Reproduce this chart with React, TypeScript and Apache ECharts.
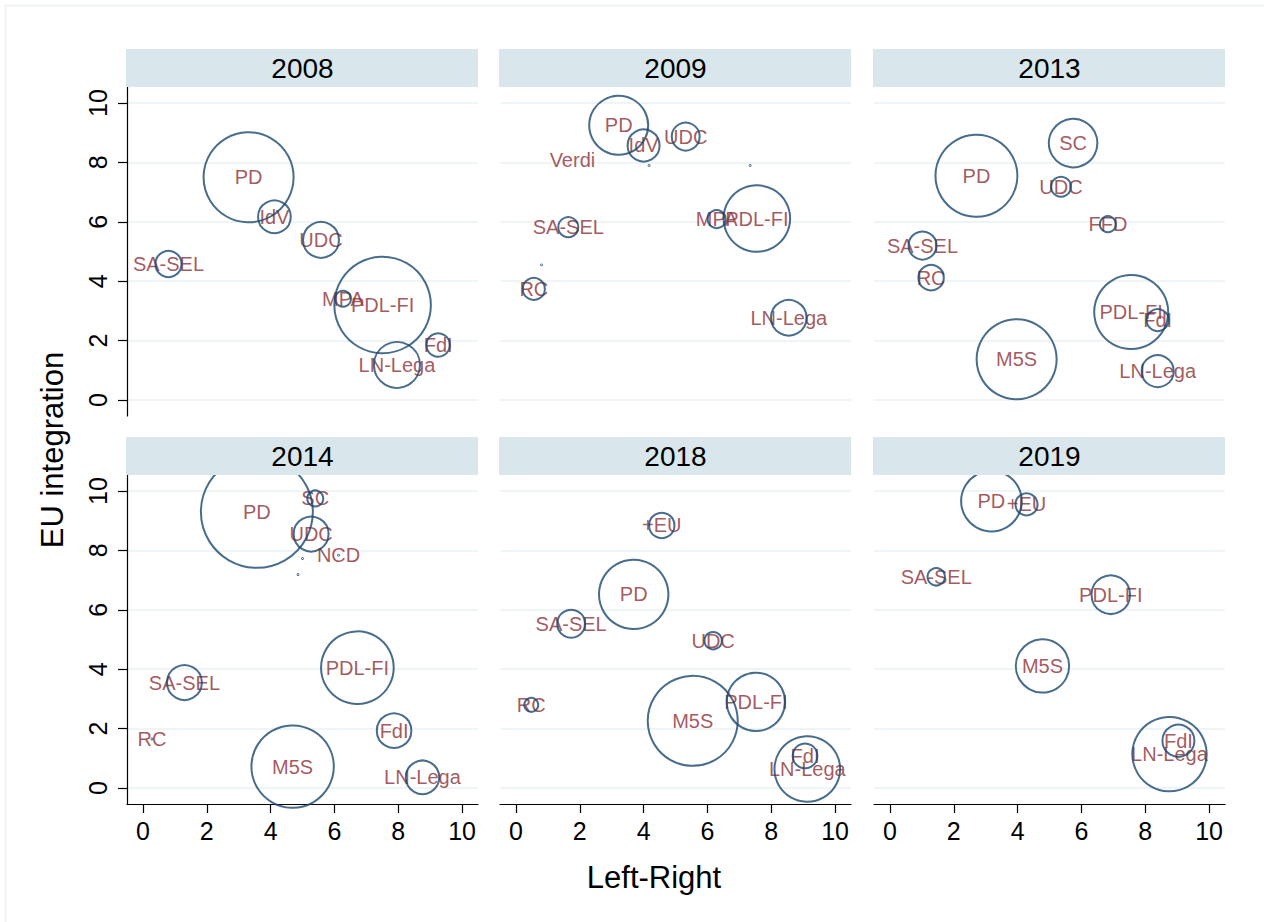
import React, { useEffect, useRef } from 'react';
import * as echarts from 'echarts';

// ---------- data ----------
const panelYears = ['2008', '2009', '2013', '2014', '2018', '2019'];
const tickValues = [0, 2, 4, 6, 8, 10];

const parties2008 = ['PD', 'IdV', 'UDC', 'SA-SEL', 'MPA', 'PDL-FI', 'FdI', 'LN-Lega'];
const leftRight2008 = [3.31, 4.12, 5.58, 0.8, 6.27, 7.51, 9.25, 7.96];
const euInteg2008 = [7.5, 6.17, 5.39, 4.58, 3.41, 3.2, 1.85, 1.18];
const weight2008 = [33.3, 4.4, 5.3, 2.8, 1.05, 38.3, 2.25, 8.7];

const parties2009 = ['PD', 'IdV', 'UDC', 'Verdi', 'SA-SEL', 'RC', 'MPA', 'PDL-FI', 'LN-Lega', '', '', ''];
const leftRight2009 = [3.22, 4.0, 5.32, 1.77, 1.64, 0.56, 6.29, 7.55, 8.55, 4.17, 7.34, 0.8];
const euInteg2009 = [9.25, 8.57, 8.87, 8.08, 5.82, 3.74, 6.09, 6.11, 2.77, 7.9, 7.9, 4.55];
const weight2009 = [14.3, 4.2, 3.2, 0, 1.64, 2.0, 1.33, 18.2, 5.2, 0.003, 0.003, 0.003];

const parties2013 = ['SC', 'PD', 'UDC', 'FFD', 'SA-SEL', 'RC', 'PDL-FI', 'FdI', 'M5S', 'LN-Lega'];
const leftRight2013 = [5.74, 2.71, 5.36, 6.83, 1.02, 1.29, 7.56, 8.39, 3.97, 8.39];
const euInteg2013 = [8.65, 7.55, 7.18, 5.92, 5.2, 4.12, 2.96, 2.69, 1.37, 0.97];
const weight2013 = [9.7, 27.6, 1.64, 1.05, 3.2, 2.65, 22.5, 2.0, 26.3, 4.2];

const parties2014 = ['PD', 'SC', 'UDC', 'NCD', 'SA-SEL', 'RC', 'PDL-FI', 'FdI', 'M5S', 'LN-Lega', '', ''];
const leftRight2014 = [3.57, 5.4, 5.27, 6.13, 1.3, 0.28, 6.72, 7.87, 4.69, 8.76, 5.0, 4.86];
const euInteg2014 = [9.3, 9.75, 8.55, 7.84, 3.55, 1.65, 4.05, 1.93, 0.72, 0.36, 7.73, 7.19];
const weight2014 = [51.5, 1.05, 5.0, 0.003, 5.0, 0.003, 21.7, 4.9, 27.9, 4.6, 0.003, 0.003];

const parties2018 = ['+EU', 'PD', 'SA-SEL', 'UDC', 'RC', 'M5S', 'PDL-FI', 'FdI', 'LN-Lega'];
const leftRight2018 = [4.57, 3.69, 1.73, 6.18, 0.48, 5.54, 7.52, 9.06, 9.13];
const euInteg2018 = [8.84, 6.52, 5.53, 4.96, 2.8, 2.26, 2.9, 1.08, 0.64];
const weight2018 = [2.65, 19.8, 3.2, 1.24, 0.8, 33.3, 14.0, 2.5, 17.7];

const parties2019 = ['PD', '+EU', 'SA-SEL', 'PDL-FI', 'M5S', 'LN-Lega', 'FdI'];
const leftRight2019 = [3.18, 4.28, 1.45, 6.92, 4.78, 8.76, 9.04];
const euInteg2019 = [9.66, 9.55, 7.11, 6.51, 4.11, 1.14, 1.59];
const weight2019 = [15.1, 2.0, 1.24, 6.1, 11.7, 22.7, 4.2];

const panelParties = [parties2008, parties2009, parties2013, parties2014, parties2018, parties2019];
const panelX = [leftRight2008, leftRight2009, leftRight2013, leftRight2014, leftRight2018, leftRight2019];
const panelY = [euInteg2008, euInteg2009, euInteg2013, euInteg2014, euInteg2018, euInteg2019];
const panelW = [weight2008, weight2009, weight2013, weight2014, weight2018, weight2019];

// ---------- layout / style ----------
const FONT = '"Liberation Sans", Arial, Helvetica, sans-serif';
const NAVY = '#1a476f';
const MAROON = '#8c2f36';
const GRID_COLOR = '#eaf2f3';
const STRIP_COLOR = '#d9e6eb';
const BUBBLE_K = 15.6;
const colLefts = [127, 500, 874];
const rowTops = [87, 475];
const PW = 351;
const PH = 329;

export default function App() {
  const ref = useRef<HTMLDivElement>(null);

  useEffect(() => {
    if (!ref.current) return;
    const chart = echarts.init(ref.current, null, { renderer: 'svg' });

    const grid: any[] = [];
    const xAxis: any[] = [];
    const yAxis: any[] = [];
    const series: any[] = [];
    const graphic: any[] = [];

    panelYears.forEach((yr, i) => {
      const row = Math.floor(i / 3);
      const col = i % 3;
      grid.push({ left: colLefts[col], top: rowTops[row], width: PW, height: PH, containLabel: false });
      const showX = row === 1;
      const showY = col === 0;
      xAxis.push({
        type: 'value',
        gridIndex: i,
        min: -0.5,
        max: 10.5,
        axisLine: { show: showX, onZero: false, lineStyle: { color: '#000', width: 1.2 } },
        axisTick: { show: showX, length: 9, inside: false, customValues: tickValues, lineStyle: { color: '#000', width: 1.2 } },
        axisLabel: { show: showX, customValues: tickValues, fontSize: 25, color: '#000', margin: 14, fontFamily: FONT },
        splitLine: { show: false },
      });
      yAxis.push({
        type: 'value',
        gridIndex: i,
        min: -0.54,
        max: 10.54,
        axisLine: { show: showY, onZero: false, lineStyle: { color: '#000', width: 1.2 } },
        axisTick: { show: showY, length: 9, inside: false, customValues: tickValues, lineStyle: { color: '#000', width: 1.2 } },
        axisLabel: { show: showY, customValues: tickValues, rotate: 90, fontSize: 25, color: '#000', margin: 17, fontFamily: FONT },
        splitLine: { show: true, lineStyle: { color: GRID_COLOR, width: 1.5 } },
      });

      const names = panelParties[i];
      const xs = panelX[i];
      const ys = panelY[i];
      const ws = panelW[i];

      const labelData = names
        .map((n, k) => ({ name: n, value: [xs[k], ys[k]] }))
        .filter((d) => d.name !== '');
      const bubbleData = names
        .map((n, k) => ({ name: n, value: [xs[k], ys[k], ws[k]] }))
        .filter((d) => d.value[2] > 0);

      series.push({
        type: 'scatter',
        xAxisIndex: i,
        yAxisIndex: i,
        silent: true,
        clip: false,
        z: 2,
        symbolSize: 1,
        itemStyle: { color: 'transparent' },
        label: {
          show: true,
          position: 'inside',
          formatter: (p: any) => p.name,
          color: MAROON,
          fontSize: 20,
          fontFamily: FONT,
        },
        data: labelData,
      });
      series.push({
        type: 'scatter',
        xAxisIndex: i,
        yAxisIndex: i,
        silent: true,
        clip: false,
        z: 3,
        symbol: 'circle',
        symbolSize: (v: number[]) => BUBBLE_K * Math.sqrt(v[2]),
        itemStyle: { color: 'transparent', borderColor: NAVY, borderWidth: 2 },
        label: { show: false },
        data: bubbleData,
      });

      // facet strip
      const stripTop = rowTops[row] - 38;
      graphic.push({
        type: 'rect',
        z: 100,
        shape: { x: colLefts[col] - 1, y: stripTop, width: PW + 1, height: 38 },
        style: { fill: STRIP_COLOR },
        silent: true,
      });
      graphic.push({
        type: 'text',
        z: 101,
        x: colLefts[col] + PW / 2,
        y: stripTop + 19,
        style: { text: yr, fill: '#000', font: `28px ${FONT}`, textAlign: 'center', textVerticalAlign: 'middle' },
        silent: true,
      });
    });

    graphic.push({
      type: 'rect',
      z: 0,
      shape: { x: 5.5, y: 5.5, width: 1400, height: 1100 },
      style: { fill: 'none', stroke: GRID_COLOR, lineWidth: 1.5 },
      silent: true,
    });
    graphic.push({
      type: 'text',
      z: 101,
      x: 52,
      y: 450,
      rotation: Math.PI / 2,
      style: { text: 'EU integration', fill: '#000', font: `31px ${FONT}`, textAlign: 'center', textVerticalAlign: 'middle' },
      silent: true,
    });
    graphic.push({
      type: 'text',
      z: 101,
      x: 654,
      y: 877,
      style: { text: 'Left-Right', fill: '#000', font: `31px ${FONT}`, textAlign: 'center', textVerticalAlign: 'middle' },
      silent: true,
    });

    chart.setOption({
      animation: false,
      backgroundColor: '#fff',
      textStyle: { fontFamily: FONT },
      grid,
      xAxis,
      yAxis,
      series,
      graphic,
    });

    return () => chart.dispose();
  }, []);

  return (
    <div
      ref={ref}
      style={{ position: 'fixed', left: 0, top: 0, width: 1264, height: 922, background: '#fff' }}
    />
  );
}
